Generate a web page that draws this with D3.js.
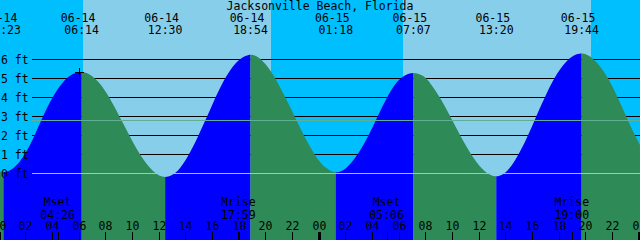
<!DOCTYPE html>
<html>
<head>
<meta charset="utf-8">
<script src="https://cdn.jsdelivr.net/npm/d3@7"></script>
<style>
  body { margin: 0; background: #00bfff; }
  svg { display: block; }
  text { font-family: "DejaVu Sans Mono", monospace; font-size: 11.5px; fill: black; }
</style>
</head>
<body>
<svg id="chart" width="640" height="240"></svg>
<script>
var title = "Jacksonville Beach, Florida";

// all times are hours counted from midnight of 06-14
var sunrise = [6.34, 30.34];
var sunset = [20.44, 44.44];

// tide extremes (labels on top)
var tideDates = ["06-14", "06-14", "06-14", "06-14", "06-15", "06-15", "06-15", "06-15"];
var tideTimes = ["00:23", "06:14", "12:30", "18:54", "01:18", "07:07", "13:20", "19:44"];
var tideDay = [0, 0, 0, 0, 24, 24, 24, 24];
var tideHigh = [false, true, false, true, false, true, false, true];

// moon events (labels at the bottom)
var moonNames = ["Mset", "Mrise", "Mset", "Mrise"];
var moonTimes = ["04:26", "17:59", "05:06", "19:00"];
var moonDay = [0, 0, 24, 24];

// water level, hours / feet
var levelHours = [0, 0.38, 1.61, 2.36, 3.11, 3.86, 4.61, 5.36, 6.23, 6.86, 7.61, 8.36, 9.11, 9.71,
  10.46, 11.21, 11.96, 12.5, 13.46, 14.21, 14.96, 15.71, 16.46, 17.21, 17.96, 18.71, 18.9,
  19.31, 20.06, 20.81, 21.56, 22.31, 23.06, 23.81, 24.56, 25.3, 26.06, 26.81, 27.56, 28.31,
  28.91, 29.66, 30.41, 31.12, 31.91, 32.66, 33.41, 34.16, 34.91, 35.66, 36.41, 37.33, 37.91,
  38.51, 39.26, 40.01, 40.76, 41.51, 42.26, 43.01, 43.73, 44.51, 45.26, 46.01, 46.76, 47.51, 48.11];
var levelFeet = [0.12, 0.08, 0.65, 1.5, 2.65, 3.75, 4.6, 5.15, 5.34, 5.2, 4.72, 3.93, 2.95, 2.15,
  1.18, 0.42, -0.07, -0.18, 0.16, 0.92, 1.95, 3.1, 4.28, 5.25, 5.92, 6.23, 6.25,
  6.18, 5.72, 4.93, 3.93, 2.86, 1.8, 0.9, 0.3, 0.06, 0.28, 0.89, 1.75, 2.82,
  3.68, 4.6, 5.13, 5.29, 5.1, 4.47, 3.62, 2.63, 1.64, 0.79, 0.16, -0.15, 0.0,
  0.45, 1.35, 2.48, 3.68, 4.78, 5.62, 6.15, 6.31, 6.08, 5.5, 4.62, 3.5, 2.33, 1.5];

var feetTicks = [0, 1, 2, 3, 4, 5, 6];
var feetLabels = ["0 ft", "1 ft", "2 ft", "3 ft", "4 ft", "5 ft", "6 ft"];
var meanLevel = 2.79;
var hourTicks = [0, 2, 4, 6, 8, 10, 12, 14, 16, 18, 20, 22, 24, 26, 28, 30, 32, 34, 36, 38, 40, 42, 44, 46, 48];
var hourLabels = ["00", "02", "04", "06", "08", "10", "12", "14", "16", "18", "20", "22",
  "00", "02", "04", "06", "08", "10", "12", "14", "16", "18", "20", "22", "00"];
var markHour = 6.07;
var markFeet = 5.32;

var width = 640, height = 240;
var svg = d3.select("#chart");

var x = d3.scaleLinear().domain([0, 48]).range([-1.5, 638.5]);
var y = d3.scaleLinear().domain([0, 6]).range([173.5, 59.5]);

function toHours(t, day) {
  var p = t.split(":");
  return day + (+p[0]) + (+p[1]) / 60;
}

// day / night background
svg.append("rect")
  .attr("x", 0).attr("y", 0)
  .attr("width", width).attr("height", height)
  .style("fill", "#00bfff");
svg.append("g").selectAll("rect")
  .data(sunrise)
  .enter()
  .append("rect")
  .attr("x", d => Math.round(x(d)))
  .attr("y", 0)
  .attr("width", (d, i) => Math.round(x(sunset[i])) - Math.round(x(d)))
  .attr("height", height)
  .style("fill", "#87ceeb");

// foot lines behind the water
svg.append("g").selectAll("line")
  .data(feetTicks.filter(d => d > 0))
  .enter()
  .append("line")
  .attr("x1", 32).attr("x2", width)
  .attr("y1", d => y(d)).attr("y2", d => y(d))
  .style("stroke", "black")
  .style("stroke-width", 1);

// water, blue while rising and green while falling
var points = levelHours.map((h, i) => [h, levelFeet[i]]);
var area = d3.area()
  .x(d => x(d[0]))
  .y0(height)
  .y1(d => y(d[1]))
  .curve(d3.curveMonotoneX);

var edges = tideTimes.map((t, i) => x(toHours(t, tideDay[i])));
var bounds = [-10].concat(edges, [width + 10]);
var defs = svg.append("defs");
var water = svg.append("g");
for (var i = 0; i < bounds.length - 1; i++) {
  var rising = i < tideHigh.length ? tideHigh[i] : !tideHigh[tideHigh.length - 1];
  defs.append("clipPath")
    .attr("id", "seg" + i)
    .append("rect")
    .attr("x", bounds[i]).attr("y", 0)
    .attr("width", bounds[i + 1] - bounds[i]).attr("height", height);
  water.append("path")
    .datum(points)
    .attr("d", area)
    .attr("clip-path", "url(#seg" + i + ")")
    .style("fill", rising ? "#0000ff" : "#2e8b57");
}

// mean level and datum lines on top of the water
svg.append("line")
  .attr("x1", 32).attr("x2", width)
  .attr("y1", Math.round(y(meanLevel)) + 0.5).attr("y2", Math.round(y(meanLevel)) + 0.5)
  .style("stroke", "#5fae96")
  .style("stroke-width", 1);
svg.append("line")
  .attr("x1", 32).attr("x2", width)
  .attr("y1", y(0)).attr("y2", y(0))
  .style("stroke", "#86d0dc")
  .style("stroke-width", 1);

// current time mark
var mx = Math.round(x(markHour)) + 0.5, my = Math.round(y(markFeet)) + 0.5;
svg.append("path")
  .attr("d", "M" + (mx - 4.5) + "," + my + "h9M" + mx + "," + (my - 4.5) + "v9")
  .style("stroke", "black")
  .style("fill", "none");

// foot labels
svg.append("g").selectAll("text")
  .data(feetTicks)
  .enter()
  .append("text")
  .attr("x", 1)
  .attr("y", d => y(d) + 4)
  .text((d, i) => feetLabels[i]);

// title
svg.append("text")
  .attr("x", 320).attr("y", 10)
  .attr("text-anchor", "middle")
  .text(title);

// tide event labels
var tideLabels = svg.append("g").selectAll("g")
  .data(tideTimes)
  .enter()
  .append("g");
tideLabels.append("text")
  .attr("x", (d, i) => x(toHours(d, tideDay[i])) - 3.5)
  .attr("y", 22)
  .attr("text-anchor", "middle")
  .text((d, i) => tideDates[i]);
tideLabels.append("text")
  .attr("x", (d, i) => x(toHours(d, tideDay[i])))
  .attr("y", 33.5)
  .attr("text-anchor", "middle")
  .text(d => d);

// moon event labels
var moon = svg.append("g").selectAll("g")
  .data(moonTimes)
  .enter()
  .append("g");
moon.append("text")
  .attr("x", (d, i) => x(toHours(d, moonDay[i])))
  .attr("y", 206)
  .attr("text-anchor", "middle")
  .text((d, i) => moonNames[i]);
moon.append("text")
  .attr("x", (d, i) => x(toHours(d, moonDay[i])))
  .attr("y", 218.5)
  .attr("text-anchor", "middle")
  .text(d => d);
moon.append("line")
  .attr("x1", (d, i) => Math.round(x(toHours(d, moonDay[i]))) + 0.5)
  .attr("x2", (d, i) => Math.round(x(toHours(d, moonDay[i]))) + 0.5)
  .attr("y1", 232).attr("y2", height)
  .style("stroke", "black");

// hour axis along the bottom
var axis = d3.axisTop(x)
  .tickValues(hourTicks)
  .tickSize(8)
  .tickPadding(2)
  .tickFormat((d, i) => hourLabels[i]);
var ax = svg.append("g")
  .attr("transform", "translate(0," + height + ")")
  .call(axis);
ax.select(".domain").remove();
ax.selectAll(".tick").attr("transform", d => "translate(" + (Math.round(x(d)) + 0.5) + ",0)");
ax.selectAll(".tick line")
  .style("stroke", "black")
  .style("stroke-width", d => d % 24 == 0 ? 3 : 1);
ax.selectAll(".tick text")
  .attr("font-family", null)
  .attr("font-size", null)
  .style("fill", "black");
</script>
</body>
</html>
